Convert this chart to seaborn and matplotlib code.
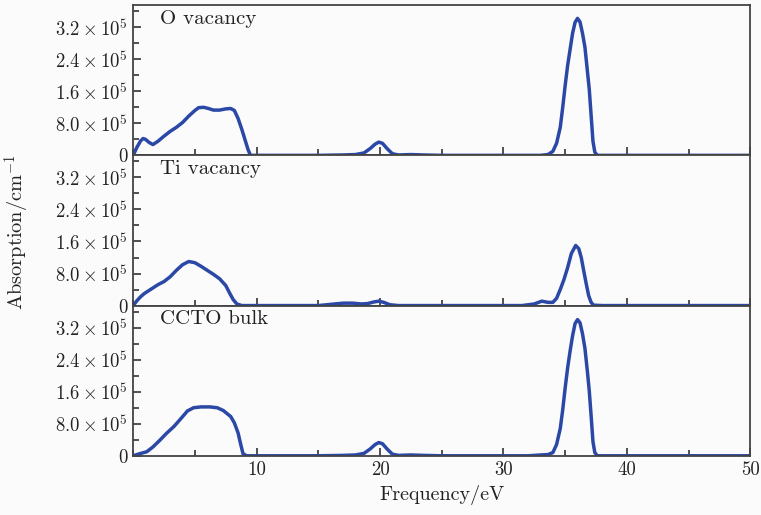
import numpy as np
import pandas as pd
import matplotlib
matplotlib.use('Agg')
from matplotlib import pyplot as plt
from matplotlib.ticker import MultipleLocator, FixedLocator
import seaborn as sb

sb.set_style('ticks')
plt.rcParams['font.family'] = 'serif'
plt.rcParams['font.serif'] = ['cmr10', 'DejaVu Serif']
plt.rcParams['mathtext.fontset'] = 'cm'
plt.rcParams['axes.formatter.use_mathtext'] = True

# data (absorption in units of 1e5 cm^-1)
o_freq = [0.0, 0.3, 0.6, 0.8, 1.0, 1.3, 1.6, 2.0, 2.5, 3.0, 3.5, 4.0, 4.5, 5.0,
          5.3, 5.7, 6.1, 6.5, 7.0, 7.5, 7.9, 8.2, 8.5, 8.8, 9.1, 9.3, 9.5, 10.0,
          12.0, 15.0, 17.0, 18.0, 18.7, 19.2, 19.6, 19.9, 20.2, 20.6, 21.0, 21.5,
          22.5, 23.5, 25.0, 30.0, 33.0, 33.6, 34.0, 34.3, 34.6, 34.8, 35.0, 35.2,
          35.4, 35.6, 35.8, 36.0, 36.2, 36.4, 36.6, 36.8, 36.95, 37.1, 37.25,
          37.4, 37.6, 38.0, 45.0, 50.0]
o_abs = [0.0, 0.2, 0.36, 0.42, 0.4, 0.32, 0.27, 0.35, 0.48, 0.6, 0.7, 0.82, 0.98, 1.12,
         1.19, 1.2, 1.17, 1.13, 1.13, 1.16, 1.17, 1.12, 0.92, 0.65, 0.35, 0.15, 0.0, 0.0,
         0.0, 0.0, 0.01, 0.02, 0.06, 0.17, 0.28, 0.33, 0.3, 0.16, 0.04, 0.01,
         0.02, 0.01, 0.0, 0.0, 0.0, 0.02, 0.1, 0.3, 0.7, 1.2, 1.75, 2.25,
         2.65, 3.05, 3.32, 3.42, 3.33, 3.05, 2.7, 2.1, 1.65, 1.0, 0.35,
         0.08, 0.0, 0.0, 0.0, 0.0]

ti_freq = [0.0, 0.3, 0.6, 0.9, 1.4, 2.0, 2.5, 3.0, 3.5, 4.0, 4.5, 5.0, 5.5, 6.0,
           6.5, 7.0, 7.5, 7.8, 8.1, 8.4, 8.8, 10.0, 15.0, 16.0, 17.0, 17.8, 18.5,
           19.0, 19.5, 19.9, 20.3, 20.8, 21.5, 25.0, 31.5, 32.5, 33.1, 33.6, 34.0,
           34.3, 34.6, 34.9, 35.2, 35.5, 35.85, 36.1, 36.3, 36.5, 36.7, 36.9,
           37.1, 37.3, 38.0, 50.0]
ti_abs = [0.0, 0.12, 0.22, 0.3, 0.4, 0.52, 0.6, 0.72, 0.88, 1.02, 1.1, 1.07, 0.98, 0.88,
          0.78, 0.67, 0.5, 0.32, 0.15, 0.04, 0.0, 0.0, 0.0, 0.03, 0.06, 0.06, 0.04,
          0.05, 0.09, 0.11, 0.08, 0.02, 0.0, 0.0, 0.0, 0.04, 0.11, 0.08, 0.08,
          0.18, 0.4, 0.65, 0.95, 1.3, 1.5, 1.42, 1.2, 0.87, 0.55, 0.25,
          0.08, 0.01, 0.0, 0.0]

bulk_freq = [0.0, 0.5, 1.1, 1.6, 2.2, 2.7, 3.3, 3.9, 4.4, 4.9, 5.5, 6.2, 6.8, 7.3,
             7.9, 8.2, 8.5, 8.7, 8.9, 9.2, 10.0, 15.0, 17.0, 18.0, 18.7, 19.2, 19.6,
             19.9, 20.2, 20.6, 21.0, 21.5, 22.5, 23.5, 25.0, 32.0, 33.0, 33.6, 34.0,
             34.3, 34.6, 34.8, 35.0, 35.2, 35.4, 35.6, 35.8, 36.0, 36.2, 36.4, 36.6,
             36.8, 36.95, 37.1, 37.25, 37.4, 37.6, 38.0, 50.0]
bulk_abs = [0.0, 0.05, 0.1, 0.22, 0.4, 0.56, 0.73, 0.94, 1.12, 1.2, 1.22, 1.22, 1.2, 1.13,
            0.98, 0.82, 0.57, 0.3, 0.05, 0.0, 0.0, 0.0, 0.01, 0.02, 0.06, 0.17, 0.28,
            0.33, 0.3, 0.16, 0.04, 0.01, 0.02, 0.01, 0.0, 0.0, 0.02, 0.03, 0.08,
            0.28, 0.68, 1.15, 1.7, 2.2, 2.62, 3.0, 3.3, 3.4, 3.32, 3.05, 2.68,
            2.1, 1.62, 1.0, 0.35, 0.08, 0.0, 0.0, 0.0]

panel_names = ['O vacancy', 'Ti vacancy', 'CCTO bulk']
ytick_vals = [0, 0.8, 1.6, 2.4, 3.2]
ytick_labels = ['0', r'$8.0\times10^5$', r'$1.6\times10^5$', r'$2.4\times10^5$', r'$3.2\times10^5$']

curves = [(o_freq, o_abs), (ti_freq, ti_abs), (bulk_freq, bulk_abs)]
line_color = '#2b48a6'

fig, axes = plt.subplots(3, 1, figsize=(7.61, 5.15), dpi=100, sharex=True)
fig.patch.set_facecolor('#fbfbfb')
plt.subplots_adjust(left=0.175, right=0.986, bottom=0.115, top=0.99, hspace=0)

for ax, name, (fx, ay) in zip(axes, panel_names, curves):
    df = pd.DataFrame({'freq': fx, 'abs': ay})
    sb.lineplot(data=df, x='freq', y='abs', ax=ax, color=line_color, linewidth=2.5)
    ax.set_facecolor('#fbfbfb')
    ax.set_xlim(0, 50)
    ax.set_ylim(0, 3.75)
    ax.yaxis.set_major_locator(FixedLocator(ytick_vals))
    ax.set_yticklabels(ytick_labels)
    ax.yaxis.set_minor_locator(MultipleLocator(0.4))
    ax.xaxis.set_major_locator(MultipleLocator(10))
    ax.xaxis.set_minor_locator(MultipleLocator(5))
    ax.tick_params(axis='both', which='major', direction='in', length=6, width=1.2,
                   color='#333333', labelsize=13.5, labelcolor='#222222', pad=4)
    ax.tick_params(axis='both', which='minor', direction='in', length=4, width=1.2,
                   color='#333333')
    ax.tick_params(top=False, right=False, which='both')
    for sp in ax.spines.values():
        sp.set_color('#444444')
        sp.set_linewidth(1.3)
    ax.set_xlabel('')
    ax.set_ylabel('')
    ax.text(0.044, 0.91, name, transform=ax.transAxes, fontsize=15,
            color='#222222', va='center', ha='left')

axes[-1].set_xticks([10, 20, 30, 40, 50])
axes[-1].set_xticklabels(['10', '20', '30', '40', '50'])
axes[-1].set_xlabel('Frequency/eV', fontsize=14.5, color='#222222', labelpad=4)
fig.text(0.023, 0.549, r'Absorption/cm$^{-1}$', rotation=90, fontsize=14.7,
         color='#222222', va='center', ha='center')

plt.savefig('out.png', dpi=100, facecolor=fig.get_facecolor())
